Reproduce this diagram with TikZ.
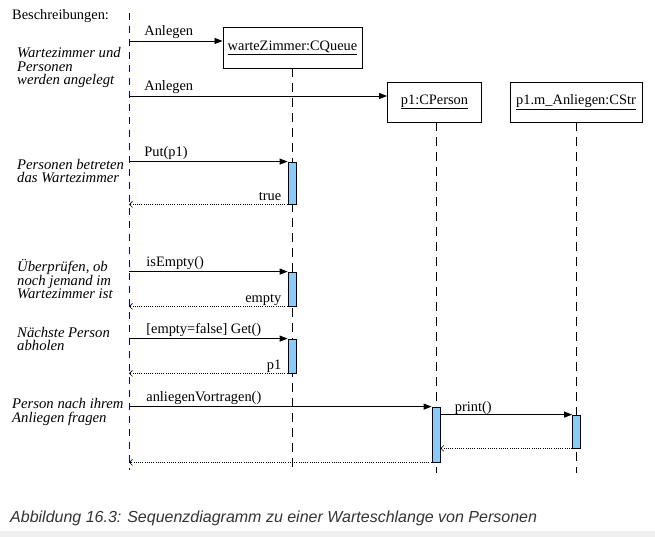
\documentclass[tikz,border=0pt]{standalone}
\usepackage{fontspec}
\setmainfont{Liberation Serif}
\newfontfamily\capfont{Liberation Sans}
\usetikzlibrary{arrows.meta}
\definecolor{actblue}{HTML}{8CCAF8}
\definecolor{capgray}{HTML}{333333}
\definecolor{bandgray}{HTML}{EFEFEF}
\tikzset{
  obj/.style={draw,line width=0.9pt,inner sep=0pt,font=\fontsize{14.4}{16}\selectfont},
  life/.style={line width=0.8pt,dash pattern=on 9pt off 6pt},
  actbar/.style={draw,fill=actblue,line width=0.8pt,minimum width=8pt,inner sep=0pt},
  call/.style={line width=0.8pt,-{Triangle[length=8pt,width=6pt]}},
  reply/.style={line width=0.6pt,dash pattern=on 1pt off 1.2pt,-{Straight Barb[length=3pt,width=6pt]}},
  msg/.style={font=\fontsize{14.4}{16}\selectfont,inner sep=0pt},
  desc/.style={font=\fontsize{14.7}{13.5}\selectfont\itshape,align=left,inner sep=0pt,anchor=north west}
}
\begin{document}
\begin{tikzpicture}[x=1pt,y=-1pt]
  \useasboundingbox (0,0) rectangle (655,537);
  \fill[bandgray] (0,531) rectangle (655,537);
  \coordinate (top) at (129,13);
  \coordinate (bot) at (129,470);
  \coordinate (bot2) at (129,473);
  \node[obj,minimum width=139pt,minimum height=41pt] (wz) at (292.5,47.5) {\underline{warteZimmer:CQueue}};
  \node[obj,minimum width=94pt,minimum height=40pt] (p1) at (434.5,102) {\underline{p1:CPerson}};
  \node[obj,minimum width=132pt,minimum height=40pt] (p1m) at (576,102) {\underline{p1.m\_Anliegen:CStr}};
  \draw[life,blue!80!black,dash pattern=on 7pt off 6pt] (top) -- (bot);
  \draw[life] (wz.south) -- (wz.south |- bot);
  \draw[life] (p1.south) ++(1.5,0) coordinate (p1l) -- (p1l |- bot2);
  \draw[life] (p1m.south) -- (p1m.south |- bot2);
  \node[actbar,minimum height=42pt] (a1) at (292,183) {};
  \node[actbar,minimum height=34pt] (a2) at (292,289) {};
  \node[actbar,minimum height=34pt] (a3) at (292,356) {};
  \node[actbar,minimum height=55pt] (a4) at (436,434.5) {};
  \node[actbar,minimum height=33pt] (a5) at (576.5,431.5) {};
  \node[desc] (d0) at (12,9.5) {\upshape\fontsize{14.4}{16}\selectfont Beschreibungen:};
  \node[desc] (d1) at (17,47.2) {Wartezimmer und\\Personen\\werden angelegt};
  \node[desc] (d2) at (17,158.9) {Personen betreten\\das Wartezimmer};
  \node[desc] (d3) at (17,259.2) {Überprüfen, ob\\noch jemand im\\Wartezimmer ist};
  \node[desc] (d4) at (17,326.6) {Nächste Person\\abholen};
  \node[desc] (d5) at (12,398.2) {Person nach ihrem\\Anliegen fragen};
  \coordinate (m1) at (129,41);
  \coordinate (m2) at (129,96);
  \draw[call] (m1) -- node[msg,at start,anchor=base west,xshift=15pt,yshift=5pt] {Anlegen} (m1 -| wz.west);
  \draw[call] (m2) -- node[msg,at start,anchor=base west,xshift=15pt,yshift=5pt] {Anlegen} (m2 -| p1.west);
  \draw[call] (a1.north west -| top) -- node[msg,at start,anchor=base west,xshift=15pt,yshift=5pt] {Put(p1)} (a1.north west);
  \draw[reply] (a1.south west) -- node[msg,at start,anchor=base east,xshift=-6pt,yshift=4pt] {true} (a1.south west -| top);
  \draw[call] (a2.north west -| top) -- node[msg,at start,anchor=base west,xshift=17pt,yshift=5pt] {isEmpty()} (a2.north west);
  \draw[reply] (a2.south west) -- node[msg,at start,anchor=base east,xshift=-6pt,yshift=4pt] {empty} (a2.south west -| top);
  \draw[call] (a3.north west -| top) -- node[msg,at start,anchor=base west,xshift=17pt,yshift=5pt] {[empty=false] Get()} (a3.north west);
  \draw[reply] (a3.south west) -- node[msg,at start,anchor=base east,xshift=-6pt,yshift=4pt] {p1} (a3.south west -| top);
  \draw[call] (a4.north west -| top) -- node[msg,at start,anchor=base west,xshift=17pt,yshift=5pt] {anliegenVortragen()} (a4.north west);
  \draw[call] (a5.north west -| a4.east) -- node[msg,at start,anchor=base west,xshift=14pt,yshift=3pt] {print()} (a5.north west);
  \draw[reply] (a5.south west) -- (a5.south west -| a4.east);
  \draw[reply] (a4.south west) -- (a4.south west -| top);
  \node[anchor=base west,inner sep=0pt,text=capgray,font=\fontsize{16}{18}\capfont\itshape] (cap) at (10,522) {Abbildung 16.3: Sequenzdiagramm zu einer Warteschlange von Personen};
\end{tikzpicture}
\end{document}
